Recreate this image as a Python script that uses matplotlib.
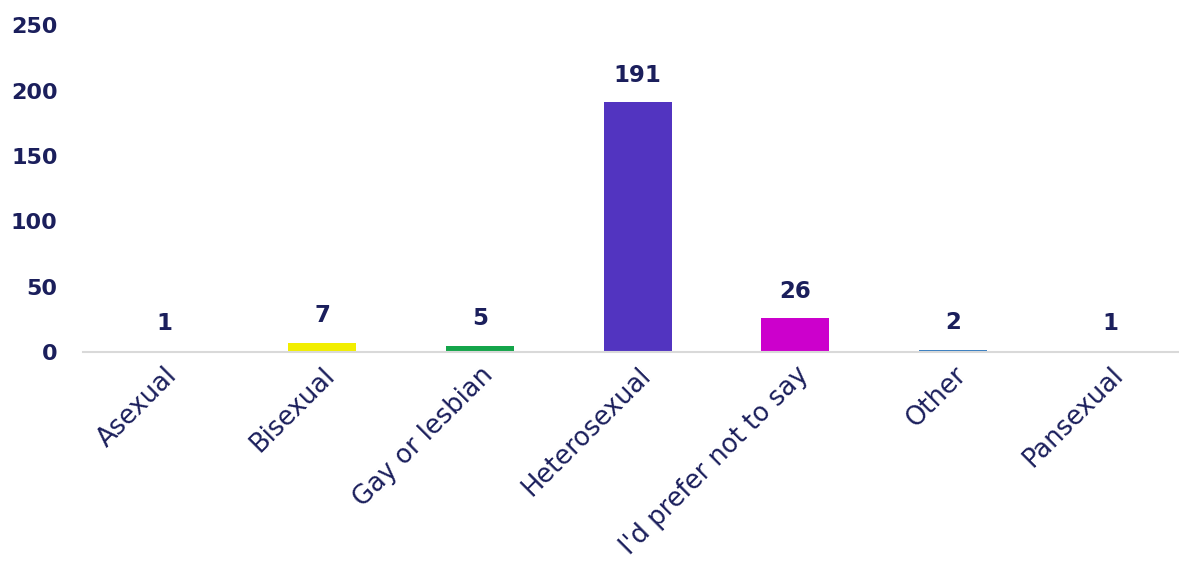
import matplotlib
matplotlib.use("Agg")
import matplotlib.pyplot as plt

# data
categories = ["Asexual", "Bisexual", "Gay or lesbian", "Heterosexual",
              "I'd prefer not to say", "Other", "Pansexual"]
counts = [1, 7, 5, 191, 26, 2, 1]
bar_colors = ["#f4b183", "#f2ee00", "#14a54a", "#5234c0",
              "#cc00cc", "#3a7fc0", "#d9d9d9"]
yticks = [0, 50, 100, 150, 200, 250]

NAVY = "#1b1f5c"
plt.rcParams["font.family"] = ["DejaVu Sans"]

fig = plt.figure(figsize=(11.79, 5.70), dpi=100)
ax = fig.add_axes([0.07, 0.382, 0.935, 0.574])

x = range(len(categories))
ax.bar(x, counts, width=0.43, color=bar_colors, zorder=2)

# value labels above bars
for xi, v in zip(x, counts):
    ax.text(xi, v + 12, str(v), ha="center", va="bottom",
            fontsize=16.5, fontweight="bold", color=NAVY)

ax.set_xlim(-0.52, 6.47)
ax.set_ylim(0, 250)
ax.set_yticks(yticks)
ax.set_yticklabels([str(t) for t in yticks], fontsize=16,
                   fontweight="bold", color=NAVY)
ax.set_xticks(list(x))
ax.set_xticklabels(categories, rotation=45, ha="right",
                   rotation_mode="anchor", fontsize=18.5, color=NAVY)
ax.tick_params(axis="both", length=0)
ax.tick_params(axis="x", pad=7)
ax.tick_params(axis="y", pad=18)

for s in ["top", "right", "left"]:
    ax.spines[s].set_visible(False)
ax.spines["bottom"].set_color("#d9d9d9")
ax.spines["bottom"].set_linewidth(1.5)

fig.savefig("out.png", dpi=100)
